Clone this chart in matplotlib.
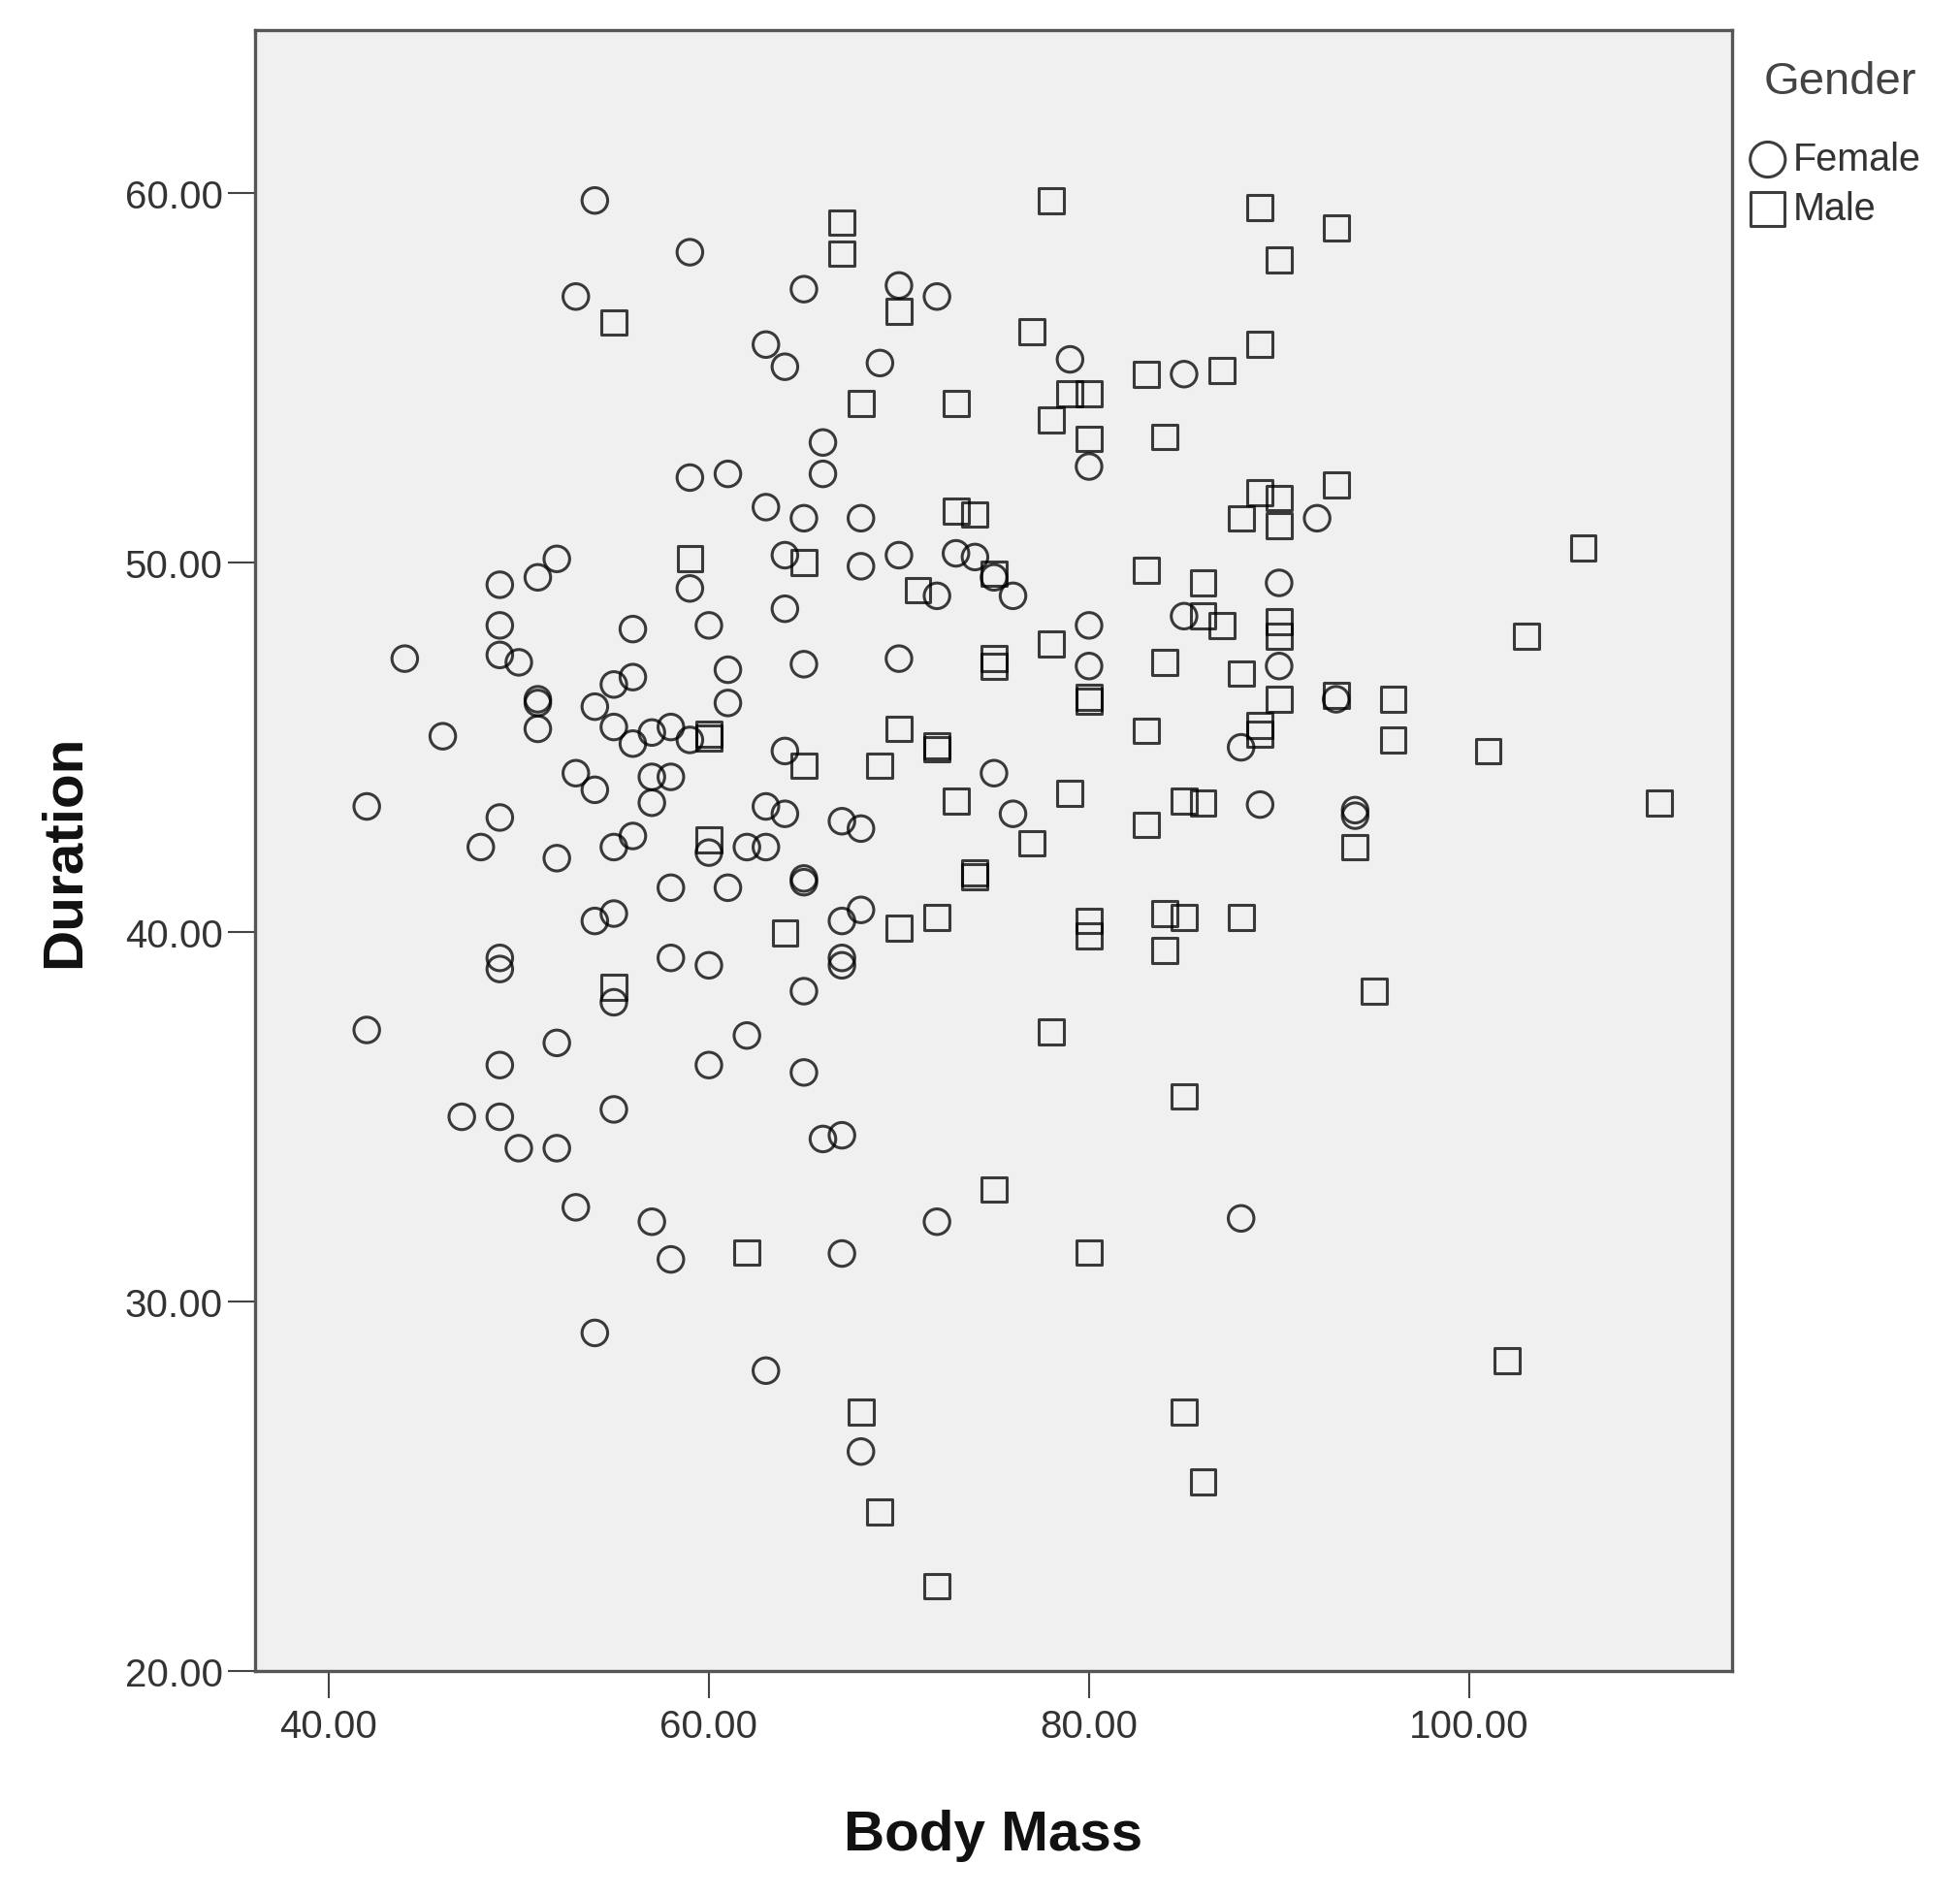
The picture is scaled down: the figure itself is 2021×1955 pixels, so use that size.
import matplotlib
matplotlib.use("Agg")
import matplotlib.pyplot as plt
from matplotlib.ticker import FormatStrFormatter

plt.rcParams['font.family'] = ['Liberation Sans', 'DejaVu Sans']

# ---- data: Female (circles) ----
female_mass = [54, 59, 53, 65, 70, 72, 63, 64, 69, 79, 85, 66, 66, 59, 61, 80, 63, 65, 68, 92,
               52, 51, 49, 64, 70, 73, 74, 68, 59, 72, 75, 76, 90, 49, 64, 60, 56, 85, 80, 44,
               49, 50, 70, 65, 61, 80, 90, 56, 55, 51, 51, 51, 54, 61, 93, 46, 55, 56, 57, 58,
               59, 64, 53, 54, 75, 57, 58, 57, 42, 49, 63, 64, 76, 67, 68, 89, 94, 94, 48, 52,
               55, 56, 60, 62, 63, 65, 65, 58, 61, 54, 55, 67, 68, 49, 49, 58, 60, 67, 67, 55,
               65, 42, 52, 62, 49, 60, 65, 55, 47, 49, 50, 52, 66, 67, 53, 57, 58, 67, 72, 88,
               54, 63, 68, 88]
female_duration = [59.8, 58.4, 57.2, 57.4, 57.5, 57.2, 55.9, 55.3, 55.4, 55.5, 55.1, 53.25, 52.4, 52.3, 52.4, 52.6, 51.5, 51.2, 51.2, 51.2,
                   50.1, 49.6, 49.4, 50.2, 50.2, 50.25, 50.15, 49.9, 49.3, 49.1, 49.6, 49.1, 49.45, 48.3, 48.75, 48.3, 48.2, 48.55, 48.3, 47.4,
                   47.5, 47.3, 47.4, 47.25, 47.1, 47.2, 47.2, 46.9, 46.7, 46.3, 46.2, 45.5, 46.1, 46.2, 46.3, 45.3, 45.55, 45.1, 45.4, 45.55,
                   45.2, 44.9, 44.3, 43.85, 44.3, 44.2, 44.2, 43.5, 43.4, 43.1, 43.4, 43.2, 43.2, 43.0, 42.8, 43.45, 43.3, 43.15, 42.3, 42.0,
                   42.3, 42.6, 42.15, 42.3, 42.3, 41.45, 41.35, 41.2, 41.2, 40.3, 40.5, 40.3, 40.6, 39.3, 39.0, 39.3, 39.1, 39.3, 39.1, 38.1,
                   38.4, 37.35, 37.0, 37.2, 36.4, 36.4, 36.2, 35.2, 35.0, 35.0, 34.15, 34.15, 34.4, 34.5, 32.55, 32.16, 31.14, 31.3, 32.16, 32.25,
                   29.15, 28.13, 25.94, 45.0]

# ---- data: Male (squares) ----
male_mass = [67, 67, 78, 89, 93, 90, 55, 70, 77, 89, 87, 83, 68, 73, 79, 80, 78, 80, 84, 89,
             90, 93, 88, 90, 73, 74, 59, 65, 71, 75, 83, 86, 86, 87, 90, 90, 106, 103, 78, 75,
             75, 84, 88, 80, 80, 90, 93, 96, 96, 89, 89, 83, 70, 60, 60, 72, 72, 65, 69, 101,
             73, 79, 85, 86, 110, 94, 83, 77, 60, 74, 74, 64, 70, 72, 80, 80, 84, 85, 88, 84,
             55, 95, 78, 85, 75, 62, 80, 102, 68, 85, 86, 69, 72]
male_duration = [59.2, 58.36, 59.8, 59.6, 59.06, 58.2, 56.5, 56.8, 56.25, 55.9, 55.2, 55.1, 54.3, 54.3, 54.56, 54.56, 53.86, 53.35, 53.4, 51.9,
                 51.75, 52.1, 51.2, 51.0, 51.4, 51.3, 50.1, 50.0, 49.25, 49.7, 49.8, 49.45, 48.55, 48.3, 48.4, 48.0, 50.4, 48.0, 47.8, 47.4,
                 47.2, 47.3, 47.0, 46.35, 46.25, 46.3, 46.4, 46.3, 45.2, 45.6, 45.35, 45.45, 45.5, 45.35, 45.25, 45.05, 44.95, 44.5, 44.5, 44.9,
                 43.55, 43.75, 43.55, 43.5, 43.5, 42.3, 42.9, 42.4, 42.5, 41.6, 41.5, 39.97, 40.1, 40.4, 40.3, 39.9, 40.5, 40.4, 40.4, 39.5,
                 38.5, 38.4, 37.3, 35.55, 33.03, 31.33, 31.33, 28.4, 27.0, 27.0, 25.12, 24.3, 22.3]

x_ticks = [40, 60, 80, 100]
y_ticks = [20, 30, 40, 50, 60]
legend_title = "Gender"
series_labels = ["Female", "Male"]

fig = plt.figure(figsize=(20.21, 19.56), dpi=100)
ax = fig.add_axes([0.1301, 0.1186, 0.7536, 0.8650])
ax.set_facecolor('#f0f0f0')

edge = (0, 0, 0, 0.76)
hf = ax.scatter(female_mass, female_duration, marker='o', s=19.0**2,
                facecolors='none', edgecolors=[edge], linewidths=2.2, label=series_labels[0])
hm = ax.scatter(male_mass, male_duration, marker='s', s=18.5**2,
                facecolors='none', edgecolors=[edge], linewidths=2.2, label=series_labels[1])

ax.set_xlim(36.12, 113.83)
ax.set_ylim(20, 64.41)
ax.set_xticks(x_ticks)
ax.set_yticks(y_ticks)
ax.xaxis.set_major_formatter(FormatStrFormatter('%.2f'))
ax.yaxis.set_major_formatter(FormatStrFormatter('%.2f'))
ax.tick_params(direction='out', length=20, width=1.5, color='#444444',
               labelsize=29, labelcolor='#333333')
ax.tick_params(axis='x', pad=7)
ax.tick_params(axis='y', pad=4)

for sp in ax.spines.values():
    sp.set_color('#555555')
    sp.set_linewidth(2.4)

ax.set_xlabel("Body Mass", fontsize=42, fontweight='bold', color='#111111', va='center')
ax.xaxis.set_label_coords(0.5, -0.0999)
ax.set_ylabel("Duration", fontsize=42, fontweight='bold', color='#111111', va='center')
ax.yaxis.set_label_coords(-0.1287, 0.5)

# legend title and entries
fig.text(0.9386, 1 - 85 / 1956, legend_title, fontsize=34, color='#444444',
         ha='center', va='center')
leg = ax.legend(handles=[hf, hm], labels=series_labels,
                loc='upper left', bbox_to_anchor=(0.8931, 0.9254),
                bbox_transform=fig.transFigure, frameon=False,
                fontsize=28.5, markerscale=1.37,
                handlelength=0.9, handletextpad=0.2, borderpad=0,
                labelspacing=0.33, borderaxespad=0)
for t in leg.get_texts():
    t.set_color('#333333')

fig.savefig("out.png", dpi=100, facecolor='white')
